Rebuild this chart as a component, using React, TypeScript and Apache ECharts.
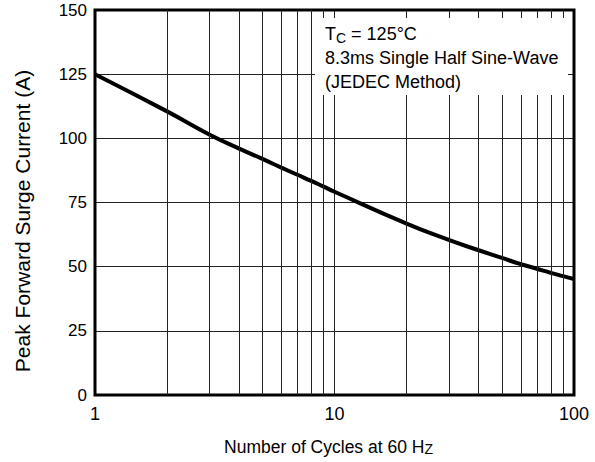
import React, { useEffect, useRef } from "react";
import * as echarts from "echarts";

const cycles = [1, 2, 3, 4, 5, 6, 7, 8, 9, 10, 20, 30, 40, 50, 60, 70, 80, 90, 100];
const surgeCurrent = [125, 110.5, 101.5, 96, 92, 88.6, 85.8, 83.4, 81.2, 79.2, 66.8, 60.4, 56.4, 53.4, 51, 49.2, 47.6, 46.3, 45.2];
const minorGridX = [2, 3, 4, 5, 6, 7, 8, 9, 20, 30, 40, 50, 60, 70, 80, 90];
const yTicks = [0, 25, 50, 75, 100, 125, 150];
const noteLines = ["T{sub|C} = 125°C", "8.3ms Single Half Sine-Wave", "(JEDEC Method)"];
const xName = "Number of Cycles at 60 H{sub|Z}";
const yName = "Peak Forward Surge Current (A)";

const FONT = "'Liberation Sans', Arial, Helvetica, sans-serif";

export default function App() {
  const ref = useRef<HTMLDivElement>(null);
  useEffect(() => {
    document.body.style.margin = "0";
    if (!ref.current) return;
    const chart = echarts.init(ref.current, null, { renderer: "svg" });
    chart.setOption({
      animation: false,
      backgroundColor: "#fff",
      textStyle: { fontFamily: FONT },
      grid: {
        left: 95,
        right: 21,
        top: 10,
        bottom: 67,
        show: true,
        borderColor: "#000",
        borderWidth: 3,
        backgroundColor: "transparent",
        z: 5,
      },
      xAxis: {
        type: "log",
        logBase: 10,
        min: 1,
        max: 100,
        name: xName,
        nameLocation: "middle",
        nameGap: 43,
        nameTextStyle: {
          fontSize: 17.5,
          color: "#000",
          fontFamily: FONT,
          padding: [0, 12, 0, 0],
          rich: { sub: { fontSize: 14, verticalAlign: "bottom", lineHeight: 14, fontFamily: FONT, color: "#000" } },
        },
        axisLine: { show: false },
        axisTick: { show: false },
        axisLabel: { fontSize: 18, color: "#000", margin: 10, fontFamily: FONT },
        splitLine: { show: true, lineStyle: { color: "#222", width: 1 } },
      },
      yAxis: {
        type: "value",
        min: 0,
        max: 150,
        interval: 25,
        axisLine: { show: false },
        axisTick: { show: false },
        axisLabel: {
          fontSize: 17,
          color: "#000",
          margin: 8,
          fontFamily: FONT,
          formatter: (v: number) => (yTicks.includes(v) ? String(v) : ""),
        },
        splitLine: { show: true, lineStyle: { color: "#222", width: 1 } },
      },
      graphic: [
        {
          type: "text",
          z: 51,
          x: 22,
          y: 221,
          rotation: Math.PI / 2,
          style: {
            text: yName,
            fontSize: 21,
            fontFamily: FONT,
            fill: "#000",
            align: "center",
            verticalAlign: "middle",
          },
        },
        {
          type: "rect",
          z: 50,
          shape: { x: 315, y: 18, width: 253, height: 77 },
          style: { fill: "#fff" },
        },
        {
          type: "text",
          z: 51,
          x: 325,
          y: 22,
          style: {
            text: noteLines.join("\n"),
            fontSize: 18,
            fontFamily: FONT,
            fill: "#000",
            lineHeight: 24,
            rich: {
              sub: { fontSize: 14, fontFamily: FONT, fill: "#000", verticalAlign: "bottom", lineHeight: 14, padding: [0, 0, 1, 0] },
            },
          },
        },
      ],
      series: [
        {
          type: "line",
          data: [],
          z: 1,
          silent: true,
          markLine: {
            silent: true,
            symbol: "none",
            label: { show: false },
            lineStyle: { color: "#222", width: 1, type: "solid" },
            emphasis: { disabled: true },
            data: minorGridX.map((v) => ({ xAxis: v })),
          },
        },
        {
          type: "line",
          z: 3,
          data: cycles.map((c, i) => [c, surgeCurrent[i]]),
          smooth: true,
          showSymbol: false,
          lineStyle: { color: "#000", width: 4 },
        },
      ],
    });
    return () => chart.dispose();
  }, []);
  return <div ref={ref} style={{ width: 595, height: 462 }} />;
}
